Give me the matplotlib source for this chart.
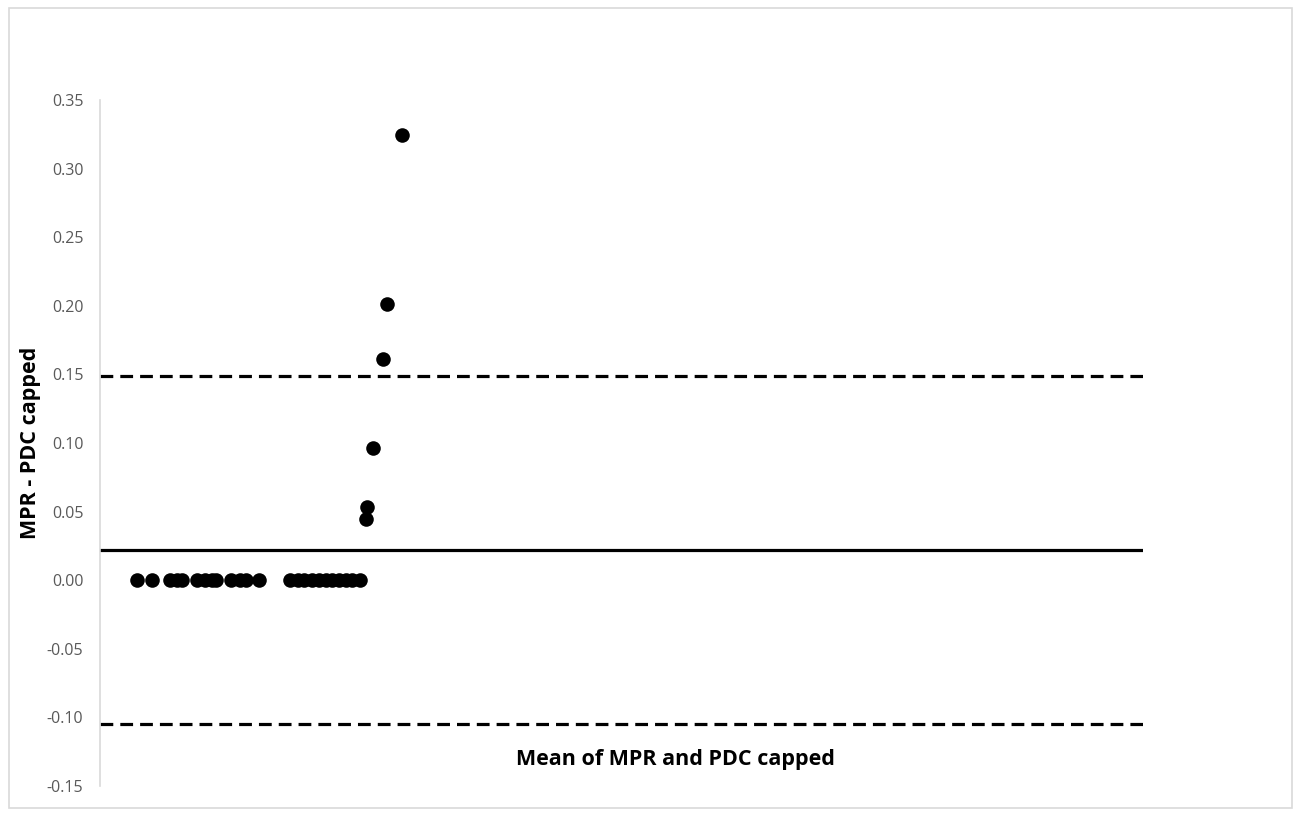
import numpy as np
import matplotlib.pyplot as plt
from matplotlib.patches import Rectangle

# mean of MPR and PDC capped (x axis carries no tick labels, arbitrary 0-1 scale)
mean_vals = [0.035, 0.050, 0.067, 0.074, 0.079, 0.093, 0.101, 0.107, 0.111, 0.126,
             0.134, 0.140, 0.152, 0.182, 0.190, 0.196, 0.203, 0.210, 0.217, 0.222,
             0.229, 0.236, 0.242, 0.249,
             0.255, 0.256, 0.262, 0.271, 0.275, 0.290]
diff_vals = [0.0] * 24 + [0.0445, 0.053, 0.096, 0.161, 0.201, 0.3245]
mean_diff = 0.022
upper_loa = 0.149
lower_loa = -0.105

yticks = np.arange(-0.15, 0.351, 0.05)

fig = plt.figure(figsize=(13.01, 8.16), dpi=100)
fig.patches.append(Rectangle((0.007, 0.01), 0.986, 0.98, transform=fig.transFigure,
                             fill=False, edgecolor='#d9d9d9', linewidth=1.2))
ax = fig.add_axes([100 / 1301, 1 - 786 / 816, 1043 / 1301, 686 / 816])

ax.scatter(mean_vals, diff_vals, s=110, color='black', zorder=3, linewidths=0)

ax.axhline(mean_diff, color='black', linewidth=2.3)
ax.axhline(upper_loa, color='black', linewidth=2.3, linestyle=(0, (4, 2.2)))
ax.axhline(lower_loa, color='black', linewidth=2.3, linestyle=(0, (4, 2.2)))

ax.set_xlim(0, 1)
ax.set_ylim(-0.15, 0.35)
ax.set_yticks(yticks)
ax.set_yticklabels([f'{v:.2f}' for v in yticks], fontsize=11.5, color='#595959',
                   family='Open Sans')
ax.tick_params(axis='y', length=0, pad=12)
ax.set_xticks([])
for side in ['top', 'right', 'bottom']:
    ax.spines[side].set_visible(False)
ax.spines['left'].set_color('#d9d9d9')
ax.spines['left'].set_linewidth(1.2)

ax.set_ylabel('MPR - PDC capped', fontsize=15.5, fontweight='bold', family='Open Sans',
              labelpad=4)
fig.text(675 / 1301, 1 - 760 / 816, 'Mean of MPR and PDC capped', fontsize=15.5,
         fontweight='bold', family='Open Sans', ha='center', va='center')

fig.savefig('out.png', dpi=100)
